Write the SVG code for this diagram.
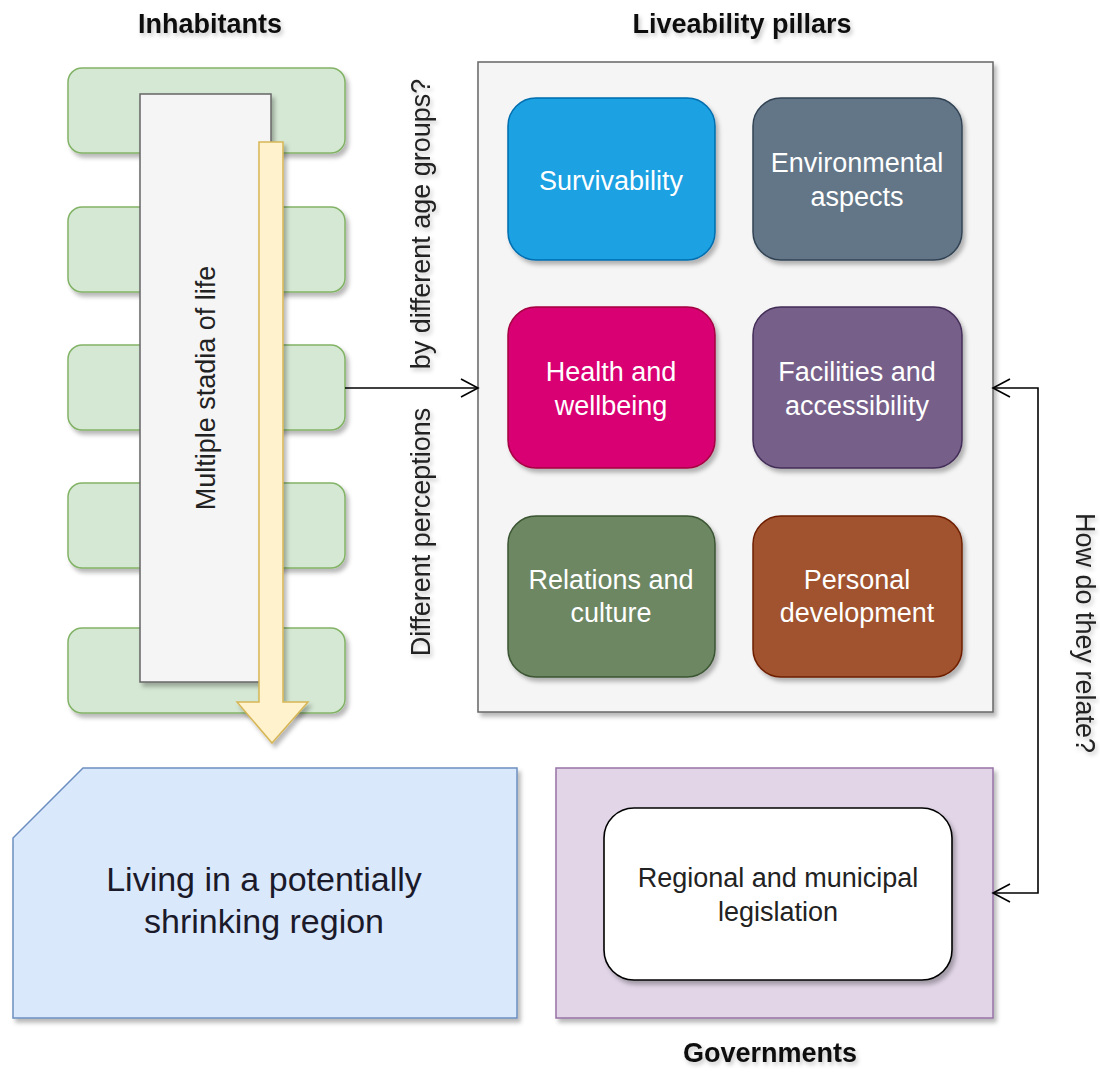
<svg xmlns="http://www.w3.org/2000/svg" width="1100" height="1074" viewBox="0 0 1100 1074">
  <defs>
    <filter id="shadow" x="-10%" y="-10%" width="125%" height="125%">
      <feDropShadow dx="3" dy="4" stdDeviation="2.2" flood-color="#000" flood-opacity="0.28"/>
    </filter>
    <filter id="tshadow" x="-10%" y="-30%" width="120%" height="180%">
      <feDropShadow dx="2" dy="3" stdDeviation="2" flood-color="#000" flood-opacity="0.22"/>
    </filter>
    <marker id="open" viewBox="0 0 20 20" refX="18" refY="10" markerWidth="20" markerHeight="20" orient="auto-start-reverse" markerUnits="userSpaceOnUse">
      <path d="M1,1 L18,10 L1,19" fill="none" stroke="#000" stroke-width="1.6"/>
    </marker>
  </defs>
  <style>
    text { font-family: "Liberation Sans", Arial, sans-serif; font-size: 27px; text-anchor: middle; dominant-baseline: central; }
    .title { font-weight: bold; fill: #111; }
    .label { fill: #222; }
    .pillar text { fill: #ffffff; }
    .pillar rect { stroke-width: 1.5; }
    .stage { fill: #d5e8d4; stroke: #82b366; stroke-width: 1.5; }
    .edge { fill: none; stroke: #000; stroke-width: 1.6; }
  </style>

  <rect width="1100" height="1074" fill="#ffffff"/>

  <!-- Section titles -->
  <g id="titles" filter="url(#tshadow)">
    <text class="title" x="210" y="24">Inhabitants</text>
    <text class="title" x="742" y="24">Liveability pillars</text>
    <text class="title" x="770" y="1053">Governments</text>
  </g>

  <!-- Inhabitants: life stages -->
  <g id="inhabitants">
    <g id="stages" filter="url(#shadow)">
      <rect class="stage" x="68" y="68" width="277" height="85" rx="14"/>
      <rect class="stage" x="68" y="207" width="277" height="85" rx="14"/>
      <rect class="stage" x="68" y="345" width="277" height="85" rx="14"/>
      <rect class="stage" x="68" y="483" width="277" height="85" rx="14"/>
      <rect class="stage" x="68" y="628" width="277" height="85" rx="14"/>
    </g>
    <g id="stadia">
      <rect x="140" y="94" width="131" height="588" fill="#f5f5f5" stroke="#666666" stroke-width="1.5" filter="url(#shadow)"/>
      <text class="label" transform="translate(206,388) rotate(-90)">Multiple stadia of life</text>
    </g>
    <path id="time-arrow" d="M259,142 H283 V702 H308 L272,743 L237,702 H259 Z" fill="#fff2cc" stroke="#d6b656" stroke-width="1.5" filter="url(#shadow)"/>
  </g>

  <!-- Liveability pillars -->
  <g id="pillars">
    <rect x="478" y="62" width="515" height="650" fill="#f5f5f5" stroke="#666666" stroke-width="1.5" filter="url(#shadow)"/>
    <g id="survivability" class="pillar">
      <rect x="508" y="98" width="207" height="162" rx="28" fill="#1ba1e2" stroke="#006eaf" filter="url(#shadow)"/>
      <text x="611" y="181">Survivability</text>
    </g>
    <g id="environmental" class="pillar">
      <rect x="753" y="98" width="209" height="162" rx="28" fill="#647687" stroke="#314354" filter="url(#shadow)"/>
      <text x="857" y="163">Environmental</text>
      <text x="857" y="197">aspects</text>
    </g>
    <g id="health" class="pillar">
      <rect x="508" y="307" width="207" height="161" rx="28" fill="#d80073" stroke="#a50040" filter="url(#shadow)"/>
      <text x="611" y="372">Health and</text>
      <text x="611" y="406">wellbeing</text>
    </g>
    <g id="facilities" class="pillar">
      <rect x="753" y="307" width="209" height="161" rx="28" fill="#76608a" stroke="#432d57" filter="url(#shadow)"/>
      <text x="857" y="372">Facilities and</text>
      <text x="857" y="406">accessibility</text>
    </g>
    <g id="relations" class="pillar">
      <rect x="508" y="516" width="207" height="161" rx="28" fill="#6d8764" stroke="#3a5431" filter="url(#shadow)"/>
      <text x="611" y="580">Relations and</text>
      <text x="611" y="613">culture</text>
    </g>
    <g id="personal" class="pillar">
      <rect x="753" y="516" width="209" height="161" rx="28" fill="#a0522d" stroke="#6d1f00" filter="url(#shadow)"/>
      <text x="857" y="580">Personal</text>
      <text x="857" y="613">development</text>
    </g>
  </g>

  <!-- Shrinking region -->
  <g id="region">
    <path d="M83,768 H517 V1018 H13 V838 Z" fill="#dae8fc" stroke="#6c8ebf" stroke-width="1.5" filter="url(#shadow)"/>
    <text x="264" y="879" style="font-size:34px" fill="#1a1a2a">Living in a potentially</text>
    <text x="264" y="921" style="font-size:34px" fill="#1a1a2a">shrinking region</text>
  </g>

  <!-- Governments -->
  <g id="governments">
    <rect x="556" y="768" width="437" height="250" fill="#e1d5e7" stroke="#9673a6" stroke-width="1.5" filter="url(#shadow)"/>
    <g id="legislation">
      <rect x="604" y="808" width="348" height="172" rx="30" fill="#ffffff" stroke="#000000" stroke-width="1.6" filter="url(#shadow)"/>
      <text class="label" x="778" y="878" fill="#333">Regional and municipal</text>
      <text class="label" x="778" y="912" fill="#333">legislation</text>
    </g>
  </g>

  <!-- Connectors -->
  <g id="connectors">
    <path class="edge" d="M345,388 H478" marker-end="url(#open)"/>
    <path class="edge" d="M993,893 H1038 V388 H993" marker-start="url(#open)" marker-end="url(#open)"/>
    <g filter="url(#tshadow)">
      <text class="label" transform="translate(421,0) rotate(-90)"><tspan x="-532">Different perceptions</tspan><tspan x="-224">by different age groups?</tspan></text>
      <text class="label" transform="translate(1085,633) rotate(90)">How do they relate?</text>
    </g>
  </g>
</svg>
